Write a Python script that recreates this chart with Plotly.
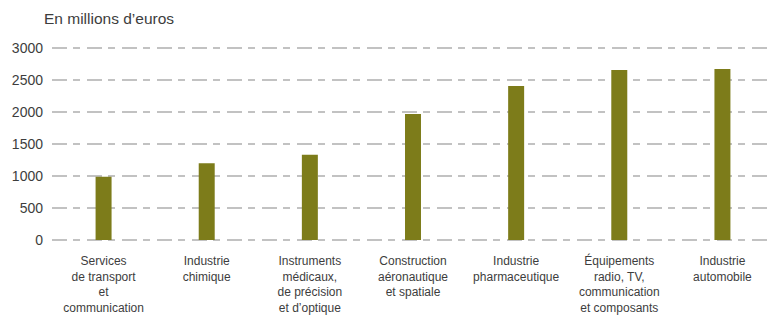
import plotly.graph_objects as go

categories = [
    "Services<br>de transport<br>et<br>communication",
    "Industrie<br>chimique",
    "Instruments<br>médicaux,<br>de précision<br>et d’optique",
    "Construction<br>aéronautique<br>et spatiale",
    "Industrie<br>pharmaceutique",
    "Équipements<br>radio, TV,<br>communication<br>et composants",
    "Industrie<br>automobile",
]
values = [990, 1200, 1330, 1970, 2405, 2655, 2670]
y_ticks = [0, 500, 1000, 1500, 2000, 2500, 3000]
y_title = "En millions d’euros"

FONT = "Liberation Sans"
TXT = "#3d3d3d"

fig = go.Figure(go.Bar(
    x=categories, y=values,
    marker=dict(color="#7d7c1a", line=dict(width=0)),
    width=0.155,
))

fig.update_layout(
    width=770, height=309,
    margin=dict(l=44, r=4, t=37, b=76),
    plot_bgcolor="white", paper_bgcolor="white",
    showlegend=False,
    font=dict(family=FONT, color=TXT),
    annotations=[dict(
        text=y_title, xref="paper", yref="paper",
        x=-10 / 722, y=1.0, yshift=27, xanchor="left", yanchor="middle",
        showarrow=False, font=dict(family=FONT, size=15.5, color=TXT),
    )],
)
fig.update_yaxes(
    range=[-16, 3047], tickvals=y_ticks, ticktext=[str(v) for v in y_ticks],
    showgrid=True, gridcolor="#c2c2c2", gridwidth=1.6,
    griddash="15px,6px,7px,7px",
    zeroline=False, showline=False, ticks="",
    tickfont=dict(family=FONT, size=14, color=TXT),
    ticklabelstandoff=8,
    automargin=False,
)
fig.update_xaxes(
    showgrid=False, showline=False, ticks="", zeroline=False,
    tickfont=dict(family=FONT, size=12, color=TXT),
    ticklabelstandoff=11,
    tickangle=0,
    automargin=False,
)

fig.write_html("out.html")
